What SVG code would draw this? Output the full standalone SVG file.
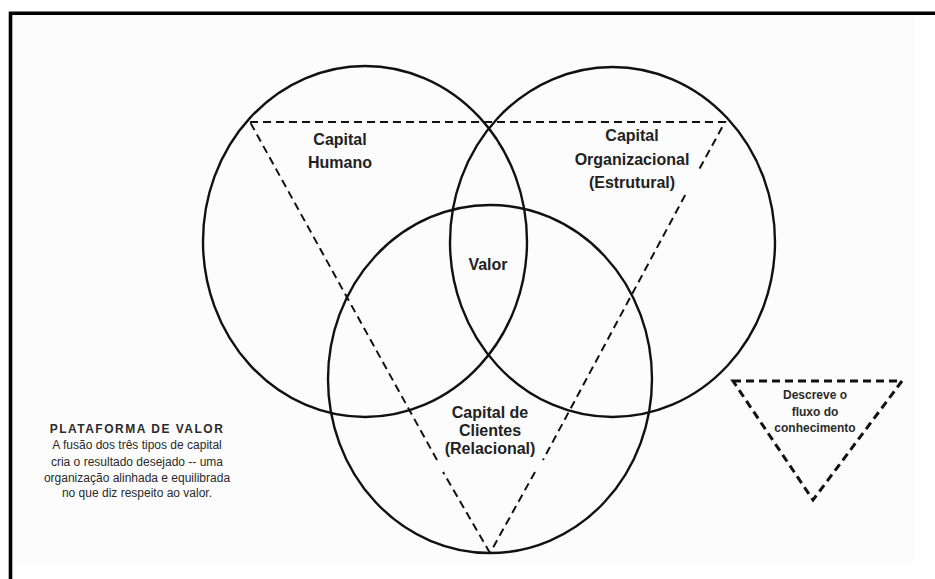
<svg xmlns="http://www.w3.org/2000/svg" width="935" height="579" viewBox="0 0 935 579">
  <style>
    .circ { fill: none; stroke: #111; stroke-width: 2.4; }
    .lbl { font-family: "Liberation Sans", Arial, sans-serif; font-weight: bold; font-size: 16px; fill: #222; text-anchor: middle; }
    .small { font-family: "Liberation Sans", Arial, sans-serif; font-size: 12px; fill: #2a2a2a; text-anchor: middle; }
    .smallb { font-family: "Liberation Sans", Arial, sans-serif; font-size: 12px; font-weight: bold; fill: #2a2a2a; text-anchor: middle; }
    .dash { fill: none; stroke: #111; stroke-width: 2; stroke-dasharray: 8 5; }
    .dash2 { fill: none; stroke: #111; stroke-width: 3; stroke-dasharray: 8 5; stroke-linejoin: miter; }
  </style>
  <rect x="0" y="0" width="935" height="579" fill="#ffffff"/>
  <rect x="12" y="15" width="903" height="548" fill="#fcfcfc"/>
  <path d="M10.5,579 V13.3 H935" fill="none" stroke="#000" stroke-width="3.6"/>

  <g id="capital-humano">
    <ellipse class="circ" cx="365" cy="241.5" rx="162" ry="175.5"/>
    <text class="lbl" x="340" y="145">Capital</text>
    <text class="lbl" x="340" y="168">Humano</text>
  </g>
  <g id="capital-organizacional">
    <ellipse class="circ" cx="612.5" cy="242" rx="162.5" ry="175"/>
    <text class="lbl" x="632" y="141">Capital</text>
    <text class="lbl" x="632" y="165">Organizacional</text>
    <text class="lbl" x="632" y="188">(Estrutural)</text>
  </g>
  <g id="capital-clientes">
    <ellipse class="circ" cx="490" cy="379" rx="162" ry="174"/>
    <text class="lbl" x="490" y="418">Capital de</text>
    <text class="lbl" x="490" y="436">Clientes</text>
    <text class="lbl" x="490" y="454">(Relacional)</text>
  </g>
  <g id="valor">
    <text class="lbl" x="488" y="270">Valor</text>
  </g>

  <g id="connectors">
    <path class="dash" d="M250,122 L725,122 L698.8,170 M685.2,195 L543,460 M535,472 L490,553 M490,553 L443,472 M437,460 L250,122"/>
  </g>

  <g id="legenda-fluxo">
    <path class="dash2" d="M733,381 L902,381 L813,500 Z"/>
    <text class="smallb" x="815" y="399">Descreve o</text>
    <text class="smallb" x="815" y="416">fluxo do</text>
    <text class="smallb" x="815" y="432">conhecimento</text>
  </g>

  <g id="plataforma-de-valor">
    <text class="smallb" x="137" y="433" letter-spacing="1.5">PLATAFORMA DE VALOR</text>
    <text class="small" x="137" y="449">A fusão dos três tipos de capital</text>
    <text class="small" x="137" y="466">cria o resultado desejado -- uma</text>
    <text class="small" x="137" y="482">organização alinhada e equilibrada</text>
    <text class="small" x="137" y="497">no que diz respeito ao valor.</text>
  </g>
</svg>
